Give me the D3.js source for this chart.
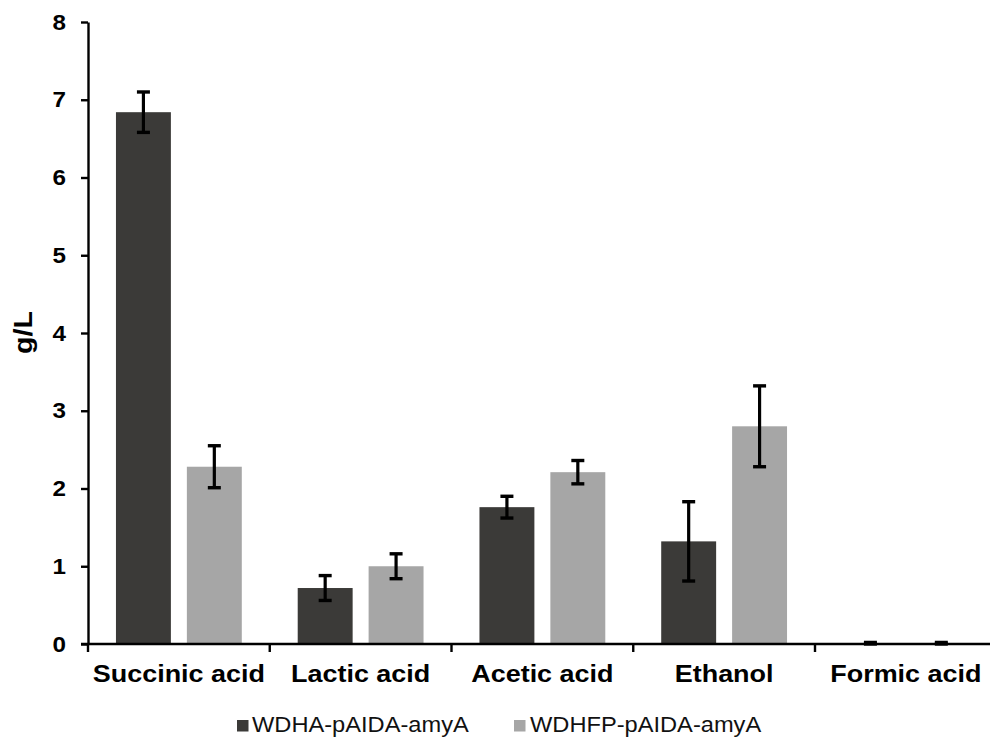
<!DOCTYPE html>
<html>
<head>
<meta charset="utf-8">
<script src="https://cdn.jsdelivr.net/npm/d3@7"></script>
<style>
  html, body { margin: 0; padding: 0; background: #fff; }
  svg { display: block; font-family: Arial, "Liberation Sans", sans-serif; }
</style>
</head>
<body>
<svg id="chart" width="990" height="742"></svg>
<script>
// Fermentation products (g/L) for the two strains
const categories = ["Succinic acid", "Lactic acid", "Acetic acid", "Ethanol", "Formic acid"];
const series = ["WDHA-pAIDA-amyA", "WDHFP-pAIDA-amyA"];
const valuesWDHA  = [6.84, 0.72, 1.76, 1.32, 0.01];
const errorsWDHA  = [0.26, 0.16, 0.14, 0.51, 0.01];
const valuesWDHFP = [2.28, 1.00, 2.21, 2.80, 0.01];
const errorsWDHFP = [0.27, 0.16, 0.15, 0.52, 0.01];
const yTicks = [0, 1, 2, 3, 4, 5, 6, 7, 8];
const colors = ["#3b3a38", "#a6a6a6"];

const svg = d3.select("#chart");
const stretch = 1.1; // horizontal glyph stretch used for all text

const plotLeft = 88, plotTop = 22, plotBottom = 644, catStep = 181.75;

const y = d3.scaleLinear().domain([0, 8]).range([plotBottom, plotTop]);
const x0 = d3.scaleBand().domain(categories)
  .range([plotLeft, plotLeft + catStep * categories.length]).padding(0);
const x1 = d3.scaleBand().domain(series)
  .range([0, x0.bandwidth()]).paddingInner(16 / 71).paddingOuter(28 / 71);

const rows = categories.map((c, i) => ({
  cat: c,
  items: [
    { s: series[0], v: valuesWDHA[i], e: errorsWDHA[i], color: colors[0] },
    { s: series[1], v: valuesWDHFP[i], e: errorsWDHFP[i], color: colors[1] }
  ]
}));

// Bars
const groups = svg.append("g").selectAll("g").data(rows).join("g")
  .attr("transform", d => `translate(${x0(d.cat)},0)`);

groups.selectAll("rect").data(d => d.items).join("rect")
  .attr("x", d => x1(d.s))
  .attr("width", x1.bandwidth())
  .attr("y", d => y(d.v))
  .attr("height", d => y(0) - y(d.v))
  .attr("fill", d => d.color);

// Error bars
const capW = 13;
const eb = groups.selectAll("g.err").data(d => d.items).join("g").attr("class", "err")
  .attr("stroke", "#000");
eb.append("line")
  .attr("x1", d => x1(d.s) + x1.bandwidth() / 2)
  .attr("x2", d => x1(d.s) + x1.bandwidth() / 2)
  .attr("y1", d => y(d.v + d.e))
  .attr("y2", d => y(Math.max(0, d.v - d.e)))
  .attr("stroke-width", 3.2);
eb.selectAll("line.cap").data(d => [
    { cx: x1(d.s) + x1.bandwidth() / 2, yy: y(d.v + d.e) },
    { cx: x1(d.s) + x1.bandwidth() / 2, yy: y(Math.max(0, d.v - d.e)) }
  ]).join("line").attr("class", "cap")
  .attr("x1", d => d.cx - capW / 2)
  .attr("x2", d => d.cx + capW / 2)
  .attr("y1", d => d.yy)
  .attr("y2", d => d.yy)
  .attr("stroke-width", 3.4);

// Y axis
const yAxis = svg.append("g")
  .attr("transform", `translate(${plotLeft},0)`)
  .call(d3.axisLeft(y).tickValues(yTicks).tickFormat(d3.format("d"))
    .tickSize(7).tickSizeOuter(0).tickPadding(15));
yAxis.select(".domain").attr("stroke", "#000").attr("stroke-width", 2.4);
yAxis.selectAll(".tick line").attr("stroke", "#000").attr("stroke-width", 2.4);
yAxis.selectAll(".tick text")
  .attr("font-size", 22).attr("font-weight", "bold").attr("fill", "#000")
  .attr("font-family", "Arial, 'Liberation Sans', sans-serif")
  .attr("x", -22 / stretch)
  .attr("transform", `scale(${stretch},1)`);

// X axis: labels at category centres, ticks at category boundaries
const xAxis = svg.append("g")
  .attr("transform", `translate(0,${plotBottom})`)
  .call(d3.axisBottom(x0).tickSize(0).tickPadding(21));
xAxis.select(".domain").remove();
xAxis.selectAll(".tick text")
  .attr("font-size", 24.5).attr("font-weight", "bold").attr("fill", "#000")
  .attr("font-family", "Arial, 'Liberation Sans', sans-serif")
  .attr("transform", `scale(${stretch},1)`);

svg.append("line")
  .attr("x1", plotLeft - 7).attr("x2", x0.range()[1])
  .attr("y1", plotBottom).attr("y2", plotBottom)
  .attr("stroke", "#000").attr("stroke-width", 2.4);
svg.append("g").selectAll("line").data(categories).join("line")
  .attr("x1", d => x0(d)).attr("x2", d => x0(d))
  .attr("y1", plotBottom).attr("y2", plotBottom + 8)
  .attr("stroke", "#000").attr("stroke-width", 2.4);

// Y axis title
svg.append("text")
  .attr("transform", `translate(31.5,332.5) rotate(-90) scale(${stretch},1)`)
  .attr("text-anchor", "middle")
  .attr("font-size", 26).attr("font-weight", "bold").attr("fill", "#000")
  .text("g/L");

// Legend
const legendItems = [
  { label: series[0], color: colors[0], sx: 237, tx: 252 },
  { label: series[1], color: colors[1], sx: 514, tx: 530 }
];
const lg = svg.append("g").selectAll("g").data(legendItems).join("g");
lg.append("rect")
  .attr("x", d => d.sx).attr("y", 720)
  .attr("width", 11.5).attr("height", 11.5)
  .attr("fill", d => d.color);
lg.append("text")
  .attr("transform", d => `translate(${d.tx},732) scale(${stretch},1)`)
  .attr("font-size", 21.5).attr("fill", "#111")
  .text(d => d.label);
</script>
</body>
</html>
